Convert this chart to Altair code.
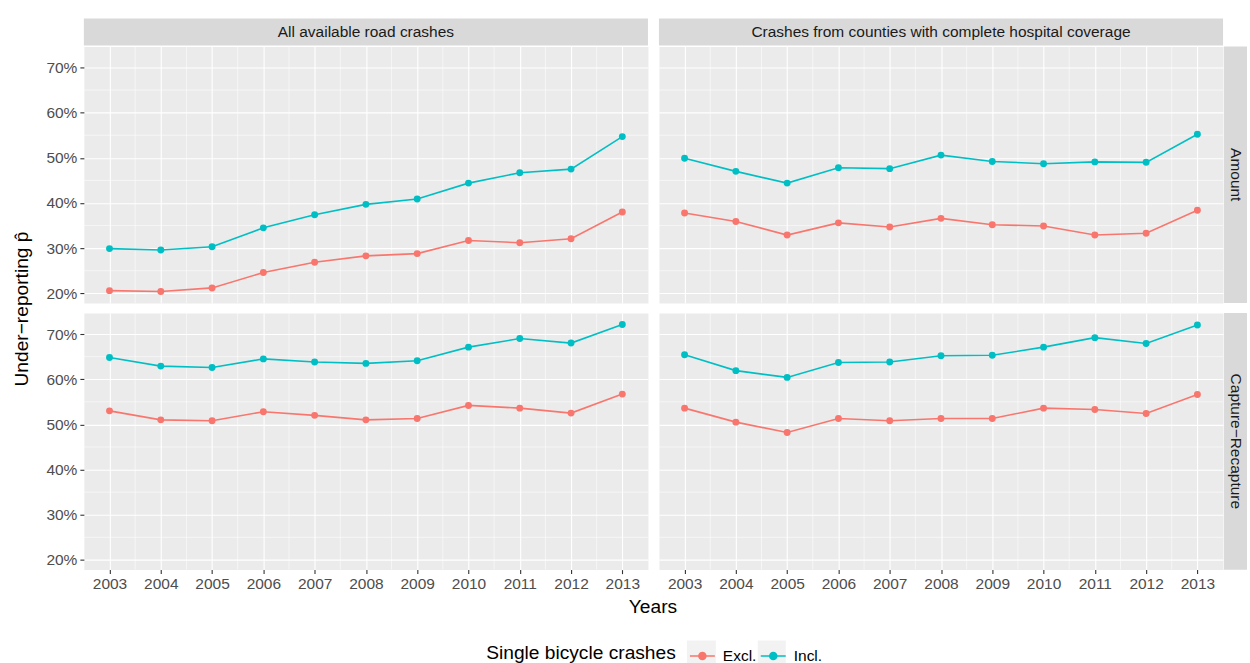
import altair as alt
import pandas as pd

# Under-reporting estimates by year, method and crash subset
years = list(range(2003, 2014))
series_names = ["Excl.", "Incl."]

amount_all_excl = [0.206, 0.204, 0.212, 0.246, 0.269, 0.283, 0.288, 0.317, 0.312, 0.321, 0.380]
amount_all_incl = [0.299, 0.296, 0.303, 0.345, 0.374, 0.397, 0.409, 0.444, 0.467, 0.475, 0.547]
amount_hosp_excl = [0.378, 0.359, 0.329, 0.356, 0.347, 0.366, 0.352, 0.349, 0.329, 0.333, 0.384]
amount_hosp_incl = [0.499, 0.470, 0.444, 0.478, 0.476, 0.506, 0.492, 0.487, 0.491, 0.490, 0.552]
cr_all_excl = [0.530, 0.510, 0.508, 0.528, 0.520, 0.510, 0.513, 0.542, 0.536, 0.525, 0.567]
cr_all_incl = [0.648, 0.629, 0.626, 0.645, 0.638, 0.635, 0.641, 0.671, 0.690, 0.680, 0.721]
cr_hosp_excl = [0.536, 0.505, 0.482, 0.513, 0.508, 0.513, 0.513, 0.536, 0.533, 0.524, 0.566]
cr_hosp_incl = [0.654, 0.619, 0.604, 0.637, 0.638, 0.652, 0.653, 0.671, 0.692, 0.679, 0.720]

col_labels = ["All available road crashes", "Crashes from counties with complete hospital coverage"]
row_labels = ["Amount", "Capture\u2212Recapture"]

y_major = [0.2, 0.3, 0.4, 0.5, 0.6, 0.7]
y_minor = [0.25, 0.35, 0.45, 0.55, 0.65]
x_minor = [y + 0.5 for y in years[:-1]]

panels_data = {
    (0, 0): (amount_all_excl, amount_all_incl),
    (0, 1): (amount_hosp_excl, amount_hosp_incl),
    (1, 0): (cr_all_excl, cr_all_incl),
    (1, 1): (cr_hosp_excl, cr_hosp_incl),
}

W, H = 565, 257
FONT = "Liberation Sans"
SMALL, LARGE = 15.5, 19.2
EXCL, INCL = "#F8766D", "#00BFC4"

x_scale = alt.Scale(domain=[2002.5, 2013.5], nice=False, zero=False)
y_scale = alt.Scale(domain=[0.1785, 0.7465], nice=False, zero=False)
color_scale = alt.Scale(domain=series_names, range=[EXCL, INCL])

# legend key: a short line with a dot in the middle
LEGEND_SYMBOL = "M-1,0L1,0M0.28,0A0.28,0.28,0,1,1,-0.28,0A0.28,0.28,0,1,1,0.28,0Z"


def make_axis(show, **kw):
    return alt.Axis(
        title=None, labels=show, ticks=show, domain=False, grid=True,
        gridColor="white", gridWidth=1.1, labelFontSize=SMALL, labelColor="#4D4D4D",
        labelFont=FONT, tickColor="#333333", tickSize=4, tickWidth=1.1,
        labelPadding=3, **kw,
    )


def panel(r, c):
    excl, incl = panels_data[(r, c)]
    df = pd.DataFrame({
        "year": years * 2,
        "value": excl + incl,
        "series": [series_names[0]] * len(years) + [series_names[1]] * len(years),
    })
    x_axis = make_axis(r == 1, values=years, format="d")
    y_axis = make_axis(c == 0, values=y_major, format=".0%")
    color = alt.Color(
        "series:N", scale=color_scale,
        legend=alt.Legend(
            title="Single bicycle crashes", orient="none", direction="horizontal",
            titleOrient="left", legendX=403, legendY=597, titleLimit=400,
            titleFontSize=LARGE, titleFontWeight="normal", titleColor="black",
            titleFont=FONT, titlePadding=13, labelFontSize=SMALL, labelColor="black",
            labelFont=FONT, symbolType=LEGEND_SYMBOL, symbolSize=625,
            symbolStrokeWidth=1.6, columnPadding=0, labelOffset=7,
        ),
    )

    minor_h = alt.Chart(pd.DataFrame({"v": y_minor})).mark_rule(
        color="white", strokeWidth=0.55
    ).encode(y=alt.Y("v:Q", scale=y_scale, axis=y_axis))
    minor_v = alt.Chart(pd.DataFrame({"v": x_minor})).mark_rule(
        color="white", strokeWidth=0.55
    ).encode(x=alt.X("v:Q", scale=x_scale, axis=x_axis))

    base = alt.Chart(df).encode(
        x=alt.X("year:Q", scale=x_scale, axis=x_axis),
        y=alt.Y("value:Q", scale=y_scale, axis=y_axis),
        color=color,
    )
    lines = base.mark_line(strokeWidth=1.6)
    points = base.mark_point(filled=True, size=48, opacity=1)

    layers = [minor_h, minor_v, lines, points]

    if r == 0:
        strip_df = pd.DataFrame({"label": [col_labels[c]]})
        layers.append(alt.Chart(strip_df).mark_rect(color="#D9D9D9").encode(
            x=alt.value(0), x2=alt.value(W), y=alt.value(-28), y2=alt.value(-1)))
        layers.append(alt.Chart(strip_df).mark_text(
            fontSize=SMALL, font=FONT, color="#1A1A1A", baseline="middle"
        ).encode(x=alt.value(W / 2), y=alt.value(-14), text="label:N"))
    if c == 1:
        strip_df = pd.DataFrame({"label": [row_labels[r]]})
        layers.append(alt.Chart(strip_df).mark_rect(color="#D9D9D9").encode(
            x=alt.value(W + 1), x2=alt.value(W + 24), y=alt.value(0), y2=alt.value(H)))
        layers.append(alt.Chart(strip_df).mark_text(
            fontSize=SMALL, font=FONT, color="#1A1A1A", angle=90, baseline="middle"
        ).encode(x=alt.value(W + 12.5), y=alt.value(H / 2), text="label:N"))
    if r == 0 and c == 0:
        t_df = pd.DataFrame({"t": ["Under\u2212reporting p\u0302"]})
        layers.append(alt.Chart(t_df).mark_text(
            fontSize=LARGE, font=FONT, color="black", angle=270, baseline="middle"
        ).encode(x=alt.value(-62), y=alt.value(H + 6), text="t:N"))
    if r == 1 and c == 0:
        t_df = pd.DataFrame({"t": ["Years"]})
        layers.append(alt.Chart(t_df).mark_text(
            fontSize=LARGE, font=FONT, color="black", baseline="middle"
        ).encode(x=alt.value(W + 5), y=alt.value(H + 37), text="t:N"))
        # light key backgrounds behind the legend symbols
        key_df = pd.DataFrame({"k": series_names})
        layers.append(alt.Chart(key_df).mark_rect(color="#F2F2F2").encode(
            x=alt.value(604), x2=alt.value(633), y=alt.value(328), y2=alt.value(357)
        ).transform_filter(alt.datum.k == "Excl."))
        layers.append(alt.Chart(key_df).mark_rect(color="#F2F2F2").encode(
            x=alt.value(675), x2=alt.value(703), y=alt.value(328), y2=alt.value(357)
        ).transform_filter(alt.datum.k == "Incl."))

    return alt.layer(*layers).properties(width=W, height=H)


chart = alt.concat(
    panel(0, 0), panel(0, 1), panel(1, 0), panel(1, 1),
    columns=2, spacing={"row": 10, "column": 11}, bounds="flush",
).configure(
    font=FONT, padding={"left": 12, "top": 17, "right": 2, "bottom": 0}
).configure_view(fill="#EBEBEB", stroke="transparent")

chart.save("out.html", embed_options={"renderer": "svg", "actions": False})
